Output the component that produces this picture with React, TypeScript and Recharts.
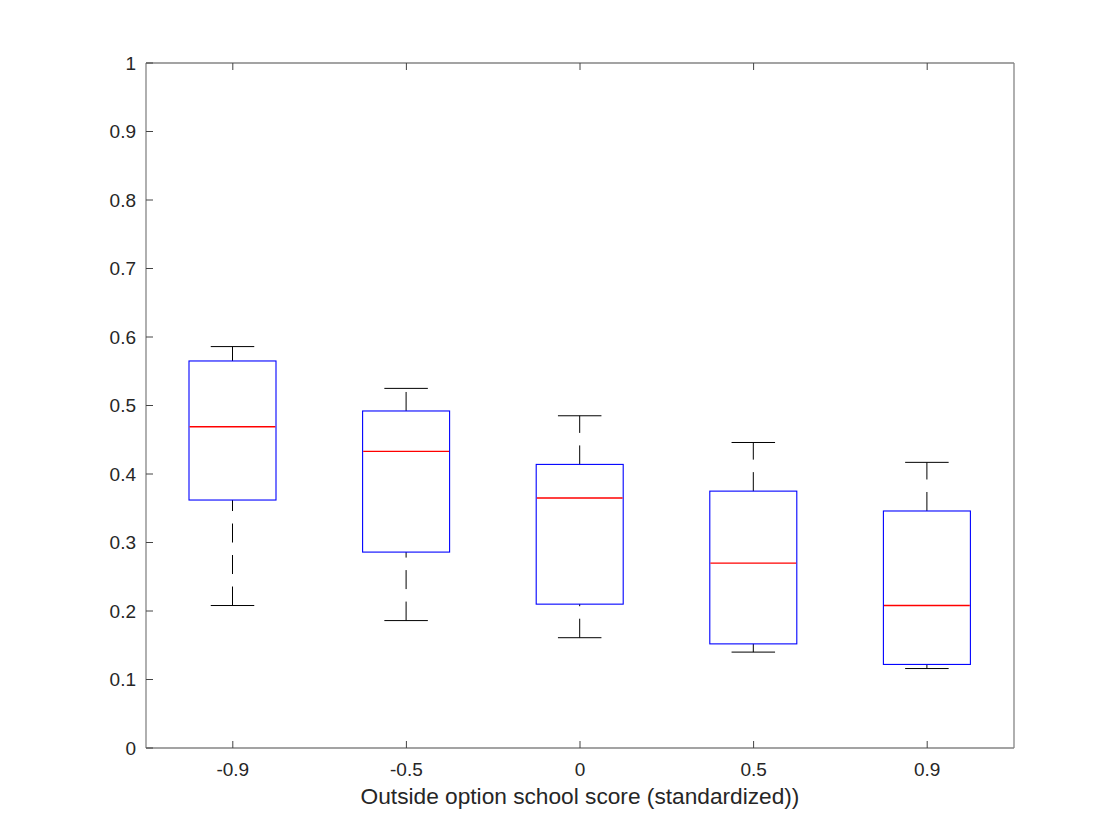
import React from 'react';
import { ComposedChart, Bar, XAxis, YAxis } from 'recharts';

const categories = ['-0.9', '-0.5', '0', '0.5', '0.9'];
const whiskerLow = [0.208, 0.186, 0.161, 0.140, 0.116];
const q1 = [0.362, 0.286, 0.210, 0.152, 0.122];
const median = [0.469, 0.433, 0.365, 0.270, 0.208];
const q3 = [0.565, 0.492, 0.414, 0.375, 0.346];
const whiskerHigh = [0.586, 0.525, 0.485, 0.446, 0.417];
const yTicks = [0, 0.1, 0.2, 0.3, 0.4, 0.5, 0.6, 0.7, 0.8, 0.9, 1];
const xLabel = 'Outside option school score (standardized))';

const data = categories.map((c, i) => ({
  cat: c,
  lo: whiskerLow[i],
  q1: q1[i],
  med: median[i],
  q3: q3[i],
  hi: whiskerHigh[i],
}));

const FONT = '"Liberation Sans", Arial, Helvetica, sans-serif';
const TEXT = '#262626';
const AXIS = '#858585';

const BoxShape = (props: any) => {
  const { x, y, width, height, payload } = props;
  if (x == null || y == null) return null;
  const ppu = height / (payload.q3 - payload.q1);
  const py = (v: number) => y + (payload.q3 - v) * ppu;
  const cx = x + width / 2;
  const capHalf = width / 4;
  const yLo = py(payload.lo);
  const yHi = py(payload.hi);
  const yQ1 = py(payload.q1);
  const yQ3 = py(payload.q3);
  const yMed = py(payload.med);
  const dash = '19 12.5';
  return (
    <g>
      <line x1={cx} y1={yLo} x2={cx} y2={yQ1} stroke="#000" strokeWidth={1} strokeDasharray={dash} />
      <line x1={cx} y1={yQ3} x2={cx} y2={yHi} stroke="#000" strokeWidth={1} strokeDasharray={dash} />
      <line x1={cx - capHalf} y1={yLo} x2={cx + capHalf} y2={yLo} stroke="#000" strokeWidth={1} />
      <line x1={cx - capHalf} y1={yHi} x2={cx + capHalf} y2={yHi} stroke="#000" strokeWidth={1} />
      <rect x={x} y={yQ3} width={width} height={yQ1 - yQ3} fill="none" stroke="#0000ff" strokeWidth={1.1} />
      <line x1={x + 0.6} y1={yMed} x2={x + width - 0.6} y2={yMed} stroke="#ff0000" strokeWidth={1.3} />
    </g>
  );
};

const tickStyle = { fill: TEXT, fontSize: 19, fontFamily: FONT };

export default function App() {
  return (
    <div style={{ position: 'absolute', left: 0, top: 0, width: 1120, height: 840, background: '#fff' }}>
      <ComposedChart
        width={1120}
        height={840}
        data={data}
        margin={{ top: 0, right: 0, bottom: 0, left: 0 }}
      >
        <XAxis
          dataKey="cat"
          xAxisId={0}
          orientation="bottom"
          height={92}
          axisLine={{ stroke: AXIS, strokeWidth: 1.3 }}
          tickLine={{ stroke: '#444', strokeWidth: 1 }}
          tickSize={-7}
          tickMargin={21.5}
          tick={tickStyle}
          interval={0}
          label={{ value: xLabel, position: 'insideBottom', offset: 36, fill: TEXT, fontSize: 22.7, fontFamily: FONT }}
        />
        <XAxis
          dataKey="cat"
          xAxisId="top"
          orientation="top"
          height={63}
          axisLine={{ stroke: AXIS, strokeWidth: 1.3 }}
          tickLine={{ stroke: '#444', strokeWidth: 1 }}
          tickSize={-7}
          tickFormatter={() => ''}
          interval={0}
        />
        <YAxis
          yAxisId={0}
          orientation="left"
          width={146}
          type="number"
          domain={[0, 1]}
          ticks={yTicks}
          interval={0}
          axisLine={{ stroke: AXIS, strokeWidth: 1.3 }}
          tickLine={{ stroke: '#444', strokeWidth: 1 }}
          tickSize={-7}
          tickMargin={17}
          tick={tickStyle}
        />
        <YAxis
          yAxisId="right"
          orientation="right"
          width={106}
          type="number"
          domain={[0, 1]}
          ticks={yTicks}
          interval={0}
          axisLine={{ stroke: AXIS, strokeWidth: 1.3 }}
          tickLine={{ stroke: '#444', strokeWidth: 1 }}
          tickSize={-7}
          tickFormatter={() => ''}
        />
        <Bar
          dataKey={(d: any) => [d.q1, d.q3]}
          xAxisId={0}
          yAxisId={0}
          barSize={87}
          shape={<BoxShape />}
          isAnimationActive={false}
        />
      </ComposedChart>
    </div>
  );
}
